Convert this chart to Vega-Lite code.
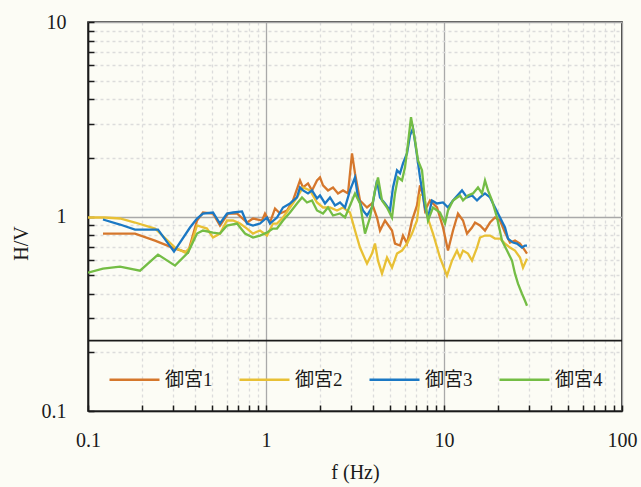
{
  "$schema": "https://vega.github.io/schema/vega-lite/v6.json",
  "width": 534,
  "height": 389,
  "autosize": {"type": "none"},
  "padding": {"left": 88, "top": 22, "right": 19, "bottom": 76},
  "background": "#fcfcf5",
  "config": {"view": {"stroke": "#1a1a1a", "strokeWidth": 1.6}, "font": "Liberation Serif"},
  "layer": [
    {
      "data": {"values": [
        {"s":"御宮1","f":0.1214,"v":0.8173},{"s":"御宮1","f":0.1513,"v":0.8173},{"s":"御宮1","f":0.1837,"v":0.8173},{"s":"御宮1","f":0.2378,"v":0.7521},{"s":"御宮1","f":0.3082,"v":0.684},{"s":"御宮1","f":0.3647,"v":0.6523},{"s":"御宮1","f":0.4097,"v":0.9536},{"s":"御宮1","f":0.4426,"v":1.0486},{"s":"御宮1","f":0.5037,"v":1.0362},{"s":"御宮1","f":0.5514,"v":0.8987},{"s":"御宮1","f":0.6117,"v":1.0362},{"s":"御宮1","f":0.6873,"v":1.0362},{"s":"御宮1","f":0.7821,"v":0.9312},{"s":"御宮1","f":0.8453,"v":0.9765},{"s":"御宮1","f":0.9496,"v":0.9536},{"s":"御宮1","f":0.9871,"v":1.0362},{"s":"御宮1","f":1.0531,"v":0.9312},{"s":"御宮1","f":1.1235,"v":1.0996},{"s":"御宮1","f":1.1985,"v":1.0362},{"s":"御宮1","f":1.3121,"v":1.0738},{"s":"御宮1","f":1.418,"v":1.2091},{"s":"御宮1","f":1.5524,"v":1.5331},{"s":"御宮1","f":1.6138,"v":1.4109},{"s":"御宮1","f":1.7217,"v":1.4795},{"s":"御宮1","f":1.8131,"v":1.3615},{"s":"御宮1","f":1.9343,"v":1.5331},{"s":"御宮1","f":2.0108,"v":1.5887},{"s":"御宮1","f":2.0904,"v":1.4447},{"s":"御宮1","f":2.2301,"v":1.3615},{"s":"御宮1","f":2.3791,"v":1.4109},{"s":"御宮1","f":2.538,"v":1.3139},{"s":"御宮1","f":2.7076,"v":1.3615},{"s":"御宮1","f":2.8885,"v":1.3139},{"s":"御宮1","f":3.0419,"v":2.1122},{"s":"御宮1","f":3.1623,"v":1.6659},{"s":"御宮1","f":3.3736,"v":1.2091},{"s":"御宮1","f":3.6934,"v":1.1127},{"s":"御宮1","f":3.9401,"v":1.1668},{"s":"御宮1","f":4.2034,"v":0.9882},{"s":"御宮1","f":4.3697,"v":0.8469},{"s":"御宮1","f":4.6617,"v":0.9536},{"s":"御宮1","f":5.1035,"v":0.8469},{"s":"御宮1","f":5.3054,"v":0.7258},{"s":"御宮1","f":5.6599,"v":0.7088},{"s":"御宮1","f":5.8839,"v":0.7981},{"s":"御宮1","f":6.1963,"v":0.7258},{"s":"御宮1","f":6.6103,"v":0.9536},{"s":"御宮1","f":7.052,"v":1.1395},{"s":"御宮1","f":7.3311,"v":1.4447},{"s":"御宮1","f":7.6211,"v":1.2831},{"s":"御宮1","f":7.8209,"v":1.0738},{"s":"御宮1","f":8.3436,"v":1.2091},{"s":"御宮1","f":9.1343,"v":1.1127},{"s":"御宮1","f":9.8716,"v":0.8776},{"s":"御宮1","f":10.531,"v":0.668},{"s":"御宮1","f":11.235,"v":0.8469},{"s":"御宮1","f":11.985,"v":1.0362},{"s":"御宮1","f":12.786,"v":0.9536},{"s":"御宮1","f":13.465,"v":0.8173},{"s":"御宮1","f":14.365,"v":0.8776},{"s":"御宮1","f":14.934,"v":0.9312},{"s":"御宮1","f":15.931,"v":0.8987},{"s":"御宮1","f":16.995,"v":0.8469},{"s":"御宮1","f":18.131,"v":0.9312},{"s":"御宮1","f":19.343,"v":0.9882},{"s":"御宮1","f":20.635,"v":0.9536},{"s":"御宮1","f":22.013,"v":0.8271},{"s":"御宮1","f":23.485,"v":0.7345},{"s":"御宮1","f":25.054,"v":0.7521},{"s":"御宮1","f":26.728,"v":0.7258},{"s":"御宮1","f":28.514,"v":0.668},{"s":"御宮1","f":29.261,"v":0.6446},
        {"s":"御宮2","f":0.1,"v":0.9882},{"s":"御宮2","f":0.1246,"v":0.9882},{"s":"御宮2","f":0.1513,"v":0.9765},{"s":"御宮2","f":0.1837,"v":0.9312},{"s":"御宮2","f":0.2378,"v":0.8672},{"s":"御宮2","f":0.3082,"v":0.6922},{"s":"御宮2","f":0.3508,"v":0.6523},{"s":"御宮2","f":0.3742,"v":0.6922},{"s":"御宮2","f":0.4097,"v":0.8987},{"s":"御宮2","f":0.4661,"v":0.8672},{"s":"御宮2","f":0.5037,"v":0.7794},{"s":"御宮2","f":0.5514,"v":0.8173},{"s":"御宮2","f":0.6038,"v":0.9536},{"s":"御宮2","f":0.6527,"v":0.9536},{"s":"御宮2","f":0.7144,"v":0.9202},{"s":"御宮2","f":0.7821,"v":0.8672},{"s":"御宮2","f":0.8453,"v":0.8173},{"s":"御宮2","f":0.9253,"v":0.8469},{"s":"御宮2","f":1.013,"v":0.7981},{"s":"御宮2","f":1.0948,"v":0.9202},{"s":"御宮2","f":1.1529,"v":0.9202},{"s":"御宮2","f":1.246,"v":0.9882},{"s":"御宮2","f":1.364,"v":1.1127},{"s":"御宮2","f":1.4934,"v":1.253},{"s":"御宮2","f":1.6138,"v":1.4109},{"s":"御宮2","f":1.7668,"v":1.3615},{"s":"御宮2","f":1.9343,"v":1.1808},{"s":"御宮2","f":2.0904,"v":1.1127},{"s":"御宮2","f":2.2885,"v":1.1127},{"s":"御宮2","f":2.5054,"v":1.0738},{"s":"御宮2","f":2.7076,"v":1.1127},{"s":"御宮2","f":2.9642,"v":1.0486},{"s":"御宮2","f":3.1623,"v":0.8469},{"s":"御宮2","f":3.3736,"v":0.6922},{"s":"御宮2","f":3.6934,"v":0.5725},{"s":"御宮2","f":3.9401,"v":0.6446},{"s":"御宮2","f":4.096,"v":0.7258},{"s":"御宮2","f":4.2581,"v":0.5932},{"s":"御宮2","f":4.4842,"v":0.5084},{"s":"御宮2","f":4.7838,"v":0.6147},{"s":"御宮2","f":5.1035,"v":0.5459},{"s":"御宮2","f":5.4445,"v":0.6446},{"s":"御宮2","f":5.8082,"v":0.668},{"s":"御宮2","f":6.1963,"v":0.7258},{"s":"御宮2","f":6.6103,"v":0.8173},{"s":"御宮2","f":7.052,"v":0.9536},{"s":"御宮2","f":7.3311,"v":1.2831},{"s":"御宮2","f":7.6211,"v":1.3139},{"s":"御宮2","f":8.026,"v":1.0119},{"s":"御宮2","f":8.6738,"v":0.8173},{"s":"御宮2","f":9.4958,"v":0.6147},{"s":"御宮2","f":10.396,"v":0.4965},{"s":"御宮2","f":11.09,"v":0.5932},{"s":"御宮2","f":11.831,"v":0.668},{"s":"御宮2","f":12.299,"v":0.6147},{"s":"御宮2","f":12.786,"v":0.668},{"s":"御宮2","f":13.64,"v":0.6446},{"s":"御宮2","f":14.365,"v":0.5932},{"s":"御宮2","f":15.325,"v":0.6922},{"s":"御宮2","f":15.931,"v":0.7794},{"s":"御宮2","f":16.995,"v":0.7981},{"s":"御宮2","f":18.131,"v":0.7981},{"s":"御宮2","f":19.343,"v":0.7702},{"s":"御宮2","f":20.635,"v":0.7702},{"s":"御宮2","f":22.013,"v":0.7258},{"s":"御宮2","f":23.485,"v":0.6922},{"s":"御宮2","f":25.054,"v":0.668},{"s":"御宮2","f":26.728,"v":0.6147},{"s":"御宮2","f":27.786,"v":0.5459},{"s":"御宮2","f":29.261,"v":0.6075},
        {"s":"御宮3","f":0.1214,"v":0.965},{"s":"御宮3","f":0.1513,"v":0.9094},{"s":"御宮3","f":0.1837,"v":0.857},{"s":"御宮3","f":0.2473,"v":0.857},{"s":"御宮3","f":0.3042,"v":0.6601},{"s":"御宮3","f":0.3742,"v":0.8776},{"s":"御宮3","f":0.4097,"v":0.9765},{"s":"御宮3","f":0.4426,"v":1.0362},{"s":"御宮3","f":0.5037,"v":1.0486},{"s":"御宮3","f":0.5514,"v":0.9202},{"s":"御宮3","f":0.6038,"v":1.0362},{"s":"御宮3","f":0.6527,"v":1.0486},{"s":"御宮3","f":0.7331,"v":1.0612},{"s":"御宮3","f":0.7821,"v":0.9202},{"s":"御宮3","f":0.8453,"v":0.8987},{"s":"御宮3","f":0.9253,"v":0.9202},{"s":"御宮3","f":1.013,"v":0.9882},{"s":"御宮3","f":1.0531,"v":0.9202},{"s":"御宮3","f":1.1529,"v":0.9882},{"s":"御宮3","f":1.246,"v":1.1127},{"s":"御宮3","f":1.364,"v":1.1668},{"s":"御宮3","f":1.4934,"v":1.253},{"s":"御宮3","f":1.5524,"v":1.4109},{"s":"御宮3","f":1.6138,"v":1.3615},{"s":"御宮3","f":1.7217,"v":1.3139},{"s":"御宮3","f":1.8131,"v":1.3615},{"s":"御宮3","f":1.9343,"v":1.2382},{"s":"御宮3","f":2.0108,"v":1.2831},{"s":"御宮3","f":2.1452,"v":1.1668},{"s":"御宮3","f":2.2885,"v":1.253},{"s":"御宮3","f":2.4414,"v":1.1395},{"s":"御宮3","f":2.6045,"v":1.1808},{"s":"御宮3","f":2.7786,"v":1.1127},{"s":"御宮3","f":2.9642,"v":1.3615},{"s":"御宮3","f":3.1623,"v":1.5887},{"s":"御宮3","f":3.2874,"v":1.253},{"s":"御宮3","f":3.5071,"v":1.0738},{"s":"御宮3","f":3.6934,"v":1.0119},{"s":"御宮3","f":3.9401,"v":1.1127},{"s":"御宮3","f":4.2034,"v":1.5331},{"s":"御宮3","f":4.3697,"v":1.253},{"s":"御宮3","f":4.6617,"v":1.1668},{"s":"御宮3","f":4.9732,"v":1.0738},{"s":"御宮3","f":5.1699,"v":1.4109},{"s":"御宮3","f":5.4445,"v":1.7263},{"s":"御宮3","f":5.6599,"v":1.6659},{"s":"御宮3","f":5.8839,"v":1.8758},{"s":"御宮3","f":6.1963,"v":2.1122},{"s":"御宮3","f":6.4415,"v":2.6153},{"s":"御宮3","f":6.6964,"v":2.8379},{"s":"御宮3","f":7.052,"v":2.0627},{"s":"御宮3","f":7.3311,"v":1.5887},{"s":"御宮3","f":7.8209,"v":1.1127},{"s":"御宮3","f":8.1305,"v":0.9882},{"s":"御宮3","f":8.5623,"v":1.2091},{"s":"御宮3","f":9.1343,"v":1.1668},{"s":"御宮3","f":9.8716,"v":1.1808},{"s":"御宮3","f":10.531,"v":1.1127},{"s":"御宮3","f":11.235,"v":1.2091},{"s":"御宮3","f":12.622,"v":1.3615},{"s":"御宮3","f":13.465,"v":1.253},{"s":"御宮3","f":14.365,"v":1.2831},{"s":"御宮3","f":15.325,"v":1.2091},{"s":"御宮3","f":15.931,"v":1.253},{"s":"御宮3","f":16.995,"v":1.3139},{"s":"御宮3","f":18.131,"v":1.253},{"s":"御宮3","f":19.343,"v":1.1127},{"s":"御宮3","f":20.635,"v":0.9882},{"s":"御宮3","f":22.013,"v":0.8776},{"s":"御宮3","f":22.885,"v":0.7702},{"s":"御宮3","f":24.414,"v":0.7345},{"s":"御宮3","f":25.711,"v":0.7258},{"s":"御宮3","f":27.429,"v":0.6922},{"s":"御宮3","f":28.514,"v":0.7088},{"s":"御宮3","f":29.261,"v":0.7088},
        {"s":"御宮4","f":0.1,"v":0.5145},{"s":"御宮4","f":0.1214,"v":0.5395},{"s":"御宮4","f":0.1513,"v":0.5525},{"s":"御宮4","f":0.196,"v":0.5268},{"s":"御宮4","f":0.2473,"v":0.637},{"s":"御宮4","f":0.3082,"v":0.5591},{"s":"御宮4","f":0.3647,"v":0.6523},{"s":"御宮4","f":0.4097,"v":0.8173},{"s":"御宮4","f":0.4426,"v":0.8469},{"s":"御宮4","f":0.5037,"v":0.8271},{"s":"御宮4","f":0.5514,"v":0.8173},{"s":"御宮4","f":0.6038,"v":0.8987},{"s":"御宮4","f":0.6873,"v":0.9202},{"s":"御宮4","f":0.7621,"v":0.8173},{"s":"御宮4","f":0.8453,"v":0.7794},{"s":"御宮4","f":0.9253,"v":0.7981},{"s":"御宮4","f":1.013,"v":0.8271},{"s":"御宮4","f":1.0948,"v":0.8672},{"s":"御宮4","f":1.1529,"v":0.8672},{"s":"御宮4","f":1.246,"v":0.9536},{"s":"御宮4","f":1.364,"v":1.0486},{"s":"御宮4","f":1.4934,"v":1.1668},{"s":"御宮4","f":1.5931,"v":1.253},{"s":"御宮4","f":1.6995,"v":1.1808},{"s":"御宮4","f":1.8131,"v":1.2091},{"s":"御宮4","f":1.9343,"v":1.0738},{"s":"御宮4","f":2.0904,"v":1.0362},{"s":"御宮4","f":2.2301,"v":1.1127},{"s":"御宮4","f":2.3791,"v":1.0119},{"s":"御宮4","f":2.6045,"v":1.0362},{"s":"御宮4","f":2.7786,"v":0.9882},{"s":"御宮4","f":2.9642,"v":1.1395},{"s":"御宮4","f":3.1623,"v":1.3139},{"s":"御宮4","f":3.3736,"v":1.1668},{"s":"御宮4","f":3.599,"v":0.8173},{"s":"御宮4","f":3.8395,"v":0.9882},{"s":"御宮4","f":4.096,"v":1.3615},{"s":"御宮4","f":4.2581,"v":1.5887},{"s":"御宮4","f":4.4842,"v":1.2091},{"s":"御宮4","f":4.7838,"v":1.1127},{"s":"御宮4","f":5.1035,"v":0.9882},{"s":"御宮4","f":5.3054,"v":1.3139},{"s":"御宮4","f":5.5153,"v":1.5887},{"s":"御宮4","f":5.8082,"v":1.5331},{"s":"御宮4","f":6.038,"v":1.7888},{"s":"御宮4","f":6.277,"v":2.3785},{"s":"御宮4","f":6.5254,"v":3.2383},{"s":"御宮4","f":6.8719,"v":2.4646},{"s":"御宮4","f":7.1438,"v":1.9438},{"s":"御宮4","f":7.5233,"v":1.7263},{"s":"御宮4","f":7.8209,"v":1.2091},{"s":"御宮4","f":8.1305,"v":0.9536},{"s":"御宮4","f":8.6738,"v":1.1127},{"s":"御宮4","f":9.4958,"v":1.0486},{"s":"御宮4","f":10.13,"v":0.9202},{"s":"御宮4","f":10.531,"v":1.0738},{"s":"御宮4","f":11.235,"v":1.2091},{"s":"御宮4","f":12.299,"v":1.2831},{"s":"御宮4","f":12.786,"v":1.2091},{"s":"御宮4","f":13.64,"v":1.2831},{"s":"御宮4","f":14.552,"v":1.3139},{"s":"御宮4","f":15.524,"v":1.4109},{"s":"御宮4","f":16.349,"v":1.3139},{"s":"御宮4","f":16.995,"v":1.5331},{"s":"御宮4","f":17.668,"v":1.3615},{"s":"御宮4","f":18.606,"v":1.2091},{"s":"御宮4","f":19.849,"v":0.9882},{"s":"御宮4","f":21.176,"v":0.7521},{"s":"御宮4","f":22.591,"v":0.668},{"s":"御宮4","f":24.1,"v":0.5932},{"s":"御宮4","f":25.054,"v":0.5084},{"s":"御宮4","f":26.045,"v":0.4516},{"s":"御宮4","f":27.429,"v":0.401},{"s":"御宮4","f":28.514,"v":0.369},{"s":"御宮4","f":29.261,"v":0.3476}
      ]},
      "mark": {"type": "line", "strokeWidth": 2.3, "clip": true},
      "encoding": {
        "x": {
          "field": "f", "type": "quantitative",
          "scale": {"type": "log", "domain": [0.1, 100], "nice": false},
          "axis": {
            "values": [0.1,0.2,0.3,0.4,0.5,0.6,0.7,0.8,0.9,1,2,3,4,5,6,7,8,9,10,20,30,40,50,60,70,80,90,100],
            "labelExpr": "abs(log(datum.value)/LN10 - round(log(datum.value)/LN10)) < 0.001 ? format(datum.value, '~g') : ''",
            "title": "f (Hz)",
            "titleFont": "Liberation Serif", "titleFontSize": 20, "titleFontWeight": "normal", "titleColor": "#1a1a1a", "titlePadding": 12,
            "labelFont": "Liberation Serif", "labelFontSize": 20, "labelColor": "#1a1a1a", "labelPadding": 25,
            "labelFlush": false, "labelOverlap": false,
            "tickSize": -6, "tickColor": "#1a1a1a", "tickWidth": 1.5,
            "domainColor": "#1a1a1a", "domainWidth": 1.6,
            "grid": true,
            "gridColor": {"condition": {"test": "abs(log(datum.value)/LN10 - round(log(datum.value)/LN10)) < 0.001", "value": "#a9a9a9"}, "value": "#dcdcdc"},
            "gridDash": {"condition": {"test": "abs(log(datum.value)/LN10 - round(log(datum.value)/LN10)) < 0.001", "value": []}, "value": [3, 3]},
            "gridWidth": 1.3
          }
        },
        "y": {
          "field": "v", "type": "quantitative",
          "scale": {"type": "log", "domain": [0.1, 10], "nice": false},
          "axis": {
            "values": [0.1,0.2,0.3,0.4,0.5,0.6,0.7,0.8,0.9,1,2,3,4,5,6,7,8,9,10],
            "labelExpr": "abs(log(datum.value)/LN10 - round(log(datum.value)/LN10)) < 0.001 ? format(datum.value, '~g') : ''",
            "title": "H/V",
            "titleFont": "Liberation Serif", "titleFontSize": 20, "titleFontWeight": "normal", "titleColor": "#1a1a1a", "titlePadding": 10, "titleY": 221,
            "labelFont": "Liberation Serif", "labelFontSize": 20, "labelColor": "#1a1a1a", "labelPadding": 28,
            "labelFlush": false, "labelOverlap": false,
            "tickSize": -6, "tickColor": "#1a1a1a", "tickWidth": 1.5,
            "domainColor": "#1a1a1a", "domainWidth": 1.6,
            "grid": true,
            "gridColor": {"condition": {"test": "abs(log(datum.value)/LN10 - round(log(datum.value)/LN10)) < 0.001", "value": "#a9a9a9"}, "value": "#dcdcdc"},
            "gridDash": {"condition": {"test": "abs(log(datum.value)/LN10 - round(log(datum.value)/LN10)) < 0.001", "value": []}, "value": [3, 3]},
            "gridWidth": 1.3
          }
        },
        "color": {
          "field": "s", "type": "nominal",
          "scale": {"domain": ["御宮1", "御宮2", "御宮3", "御宮4"], "range": ["#d5772c", "#e8c035", "#1b78c4", "#74bd45"]},
          "legend": {
            "orient": "none", "legendX": 20, "legendY": 331, "direction": "horizontal", "columns": 4, "title": null,
            "symbolType": "stroke", "symbolSize": 2500, "symbolStrokeWidth": 2.5,
            "labelFont": "Liberation Serif, Noto Sans CJK JP", "labelFontSize": 19, "labelColor": "#1a1a1a",
            "labelOffset": 4, "columnPadding": 21
          }
        }
      }
    },
    {
      "data": {"values": [{}]},
      "mark": {"type": "rule", "color": "#1a1a1a", "strokeWidth": 1.6},
      "encoding": {"y": {"datum": 0.23}}
    }
  ]
}
